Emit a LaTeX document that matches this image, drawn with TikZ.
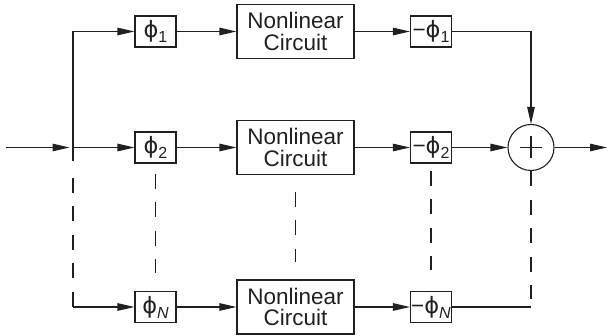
\documentclass[tikz,border=0pt]{standalone}
\usepackage{fontspec}
\setmainfont{Liberation Sans}
\newfontfamily\phifont{DejaVu Sans}
\usetikzlibrary{arrows.meta}
\definecolor{ink}{RGB}{35,31,32}
\newcommand{\ph}[1]{{\phifont ϕ}\raisebox{-5pt}{\fontsize{16}{16}\selectfont #1}}
\begin{document}
\begin{tikzpicture}[x=1pt,y=-1pt,color=ink,line width=1.1pt,
  arr/.style={-{Triangle[length=17pt,width=7.5pt]}},
  dsh/.style={dash pattern=on 15pt off 13.5pt},
  pbox/.style={draw, minimum width=41pt, minimum height=31pt, inner sep=0pt, font=\fontsize{22.5}{22.5}\selectfont},
  nbox/.style={draw, minimum width=117pt, minimum height=54pt, inner sep=0pt, align=center, font=\fontsize{22.5}{21.7}\selectfont},
  sumnode/.style={draw, circle, minimum size=46pt, inner sep=0pt}]
\useasboundingbox (0,0) rectangle (608,336);
% coordinates
\coordinate (in) at (6,147.5);
\coordinate (sp) at (73,147.5);
\coordinate (vb) at (73,161);
\coordinate (dt) at (73,176);
\coordinate (bl) at (73,307);
\coordinate (br) at (531,307);
\coordinate (dr) at (531,299);
\coordinate (out) at (607,147.5);
% boxes
\node[pbox] (p1) at (155.5,31.5) {\ph{1}};
\node[pbox] (p2) at (155.5,147.5) {\ph{2}};
\node[pbox] (pN) at (155.5,307) {\ph{\textit{N}}};
\node[nbox] (n1) at (295.5,31.5) {Nonlinear\\Circuit};
\node[nbox] (n2) at (295.5,147.5) {Nonlinear\\Circuit};
\node[nbox] (n3) at (295.5,307) {Nonlinear\\Circuit};
\node[pbox] (m1) at (431,31.5) {−\ph{1}};
\node[pbox] (m2) at (431,147.5) {−\ph{2}};
\node[pbox] (mN) at (431,307) {−\ph{\textit{N}}};
\node[sumnode] (s) at (531,147.5) {};
\draw ([xshift=-11pt]s.center) -- ([xshift=11pt]s.center);
\draw ([yshift=-11pt]s.center) -- ([yshift=11pt]s.center);
% connectors
\draw[arr, shorten >=3.5pt] (in) -- (sp);
\draw[arr] (vb) |- (p1);
\draw[arr] (sp) -- (p2);
\draw[dsh] (bl) -- (dt);
\draw[arr] (bl) -- (pN);
\draw[arr] (p1) -- (n1);
\draw[arr] (p2) -- (n2);
\draw[arr] (pN) -- (n3);
\draw[arr] (n1) -- (m1);
\draw[arr] (n2) -- (m2);
\draw[arr] (n3) -- (mN);
\draw[arr] (m1) -| (s);
\draw[arr] (m2) -- (s);
\draw (mN) -- (br);
\draw[arr] (s) -- (out);
\draw[dsh] (s) -- (dr);
\draw[dsh, shorten <=10pt, shorten >=18pt] (p2) -- (pN);
\draw[dsh, shorten <=16.5pt, shorten >=17pt] (n2) -- (n3);
\draw[dsh, shorten <=7pt, shorten >=21pt] (m2) -- (mN);
\end{tikzpicture}
\end{document}
